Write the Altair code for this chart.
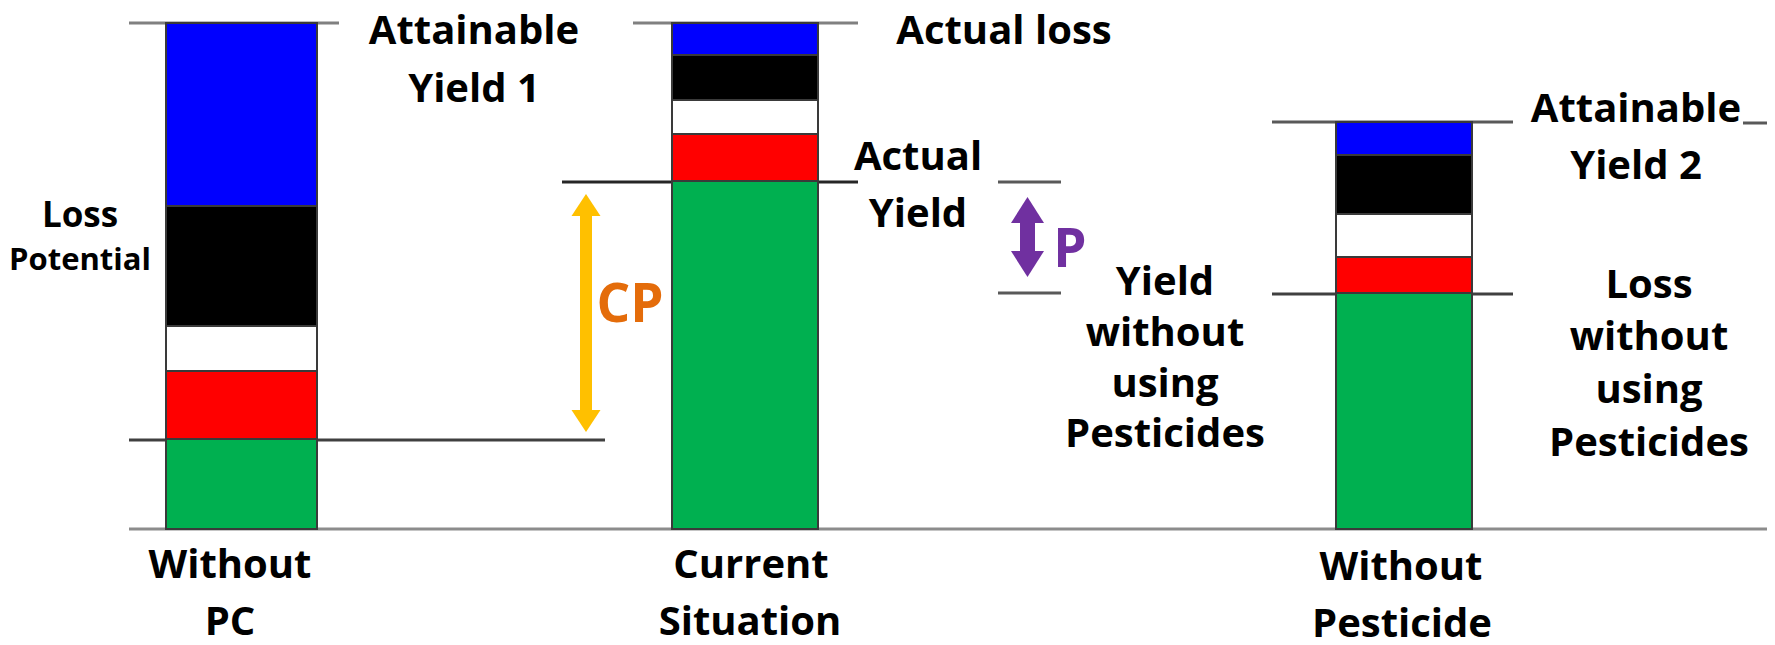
import altair as alt
import pandas as pd

# ---------------- data ----------------
scenarios = ["Without PC", "Current Situation", "Without Pesticide"]
layer_names = ["Yield", "Loss 1", "Loss 2", "Loss 3", "Loss 4"]
layer_colors = ["#00B050", "#FF0000", "#FFFFFF", "#000000", "#0000FF"]
# cumulative top of each stacked component (arbitrary yield units)
yield_top = [90, 348, 236]
red_top = [158, 395, 272]
white_top = [203, 429, 315]
black_top = [323, 474, 374]
blue_top = [506, 506, 407]

# reference levels
attainable_1 = 506
attainable_2 = 407
actual_yield = 347
yield_no_pest = 236
yield_no_pc = 89

# ---------------- layout ----------------
BASE = 529  # pixel row of the zero line in the page (for converting label rows)
bar_x0 = [166, 672, 1336]
bar_x1 = [317, 818, 1472]

rows = []
tops = [yield_top, red_top, white_top, black_top, blue_top]
for i, s in enumerate(scenarios):
    lo = 0
    for j, name in enumerate(layer_names):
        hi = tops[j][i]
        rows.append(dict(scenario=s, layer=name, x0=bar_x0[i], x1=bar_x1[i], lo=lo, hi=hi))
        lo = hi
seg = pd.DataFrame(rows)

X = alt.Scale(domain=[8, 1767], nice=False, zero=False)
Y = alt.Scale(domain=[-108, 521], nice=False, zero=False)

lines = pd.DataFrame([
    dict(x0=129, x1=339, v=attainable_1, c="#808080", w=3),
    dict(x0=633, x1=858, v=attainable_1, c="#808080", w=3),
    dict(x0=129, x1=605, v=yield_no_pc, c="#404040", w=3),
    dict(x0=562, x1=858, v=actual_yield, c="#262626", w=3),
    dict(x0=998, x1=1061, v=actual_yield, c="#595959", w=3),
    dict(x0=998, x1=1061, v=yield_no_pest, c="#595959", w=3),
    dict(x0=1272, x1=1513, v=attainable_2, c="#595959", w=3),
    dict(x0=1743, x1=1768, v=attainable_2 - 1, c="#595959", w=3),
    dict(x0=1272, x1=1513, v=yield_no_pest - 1, c="#404040", w=3),
    dict(x0=129, x1=1768, v=0, c="#8c8c8c", w=3),
])

rule_chart = alt.Chart(lines).mark_rule().encode(
    x=alt.X("x0:Q", scale=X, axis=None),
    x2="x1:Q",
    y=alt.Y("v:Q", scale=Y, axis=None),
    color=alt.Color("c:N", scale=None),
    strokeWidth=alt.StrokeWidth("w:Q", scale=None),
)

bars = alt.Chart(seg).mark_rect(stroke="#3a3a3a", strokeWidth=2).encode(
    x=alt.X("x0:Q", scale=X, axis=None),
    x2="x1:Q",
    y=alt.Y("lo:Q", scale=Y, axis=None),
    y2="hi:Q",
    color=alt.Color("layer:N", scale=alt.Scale(domain=layer_names, range=layer_colors), legend=None),
)

# ---------------- arrows ----------------
def arrow(x, tip_top, tip_bot, head_len, head_w, shaft_w, color):
    hr = head_len / head_w
    up = f"M0,{-hr:.3f}L1,{hr:.3f}L-1,{hr:.3f}Z"
    dn = f"M0,{hr:.3f}L1,{-hr:.3f}L-1,{-hr:.3f}Z"
    c_top = tip_top - head_len / 2
    c_bot = tip_bot + head_len / 2
    shaft = alt.Chart(pd.DataFrame([dict(x=x, a=c_top, b=c_bot)])).mark_rule(
        color=color, strokeWidth=shaft_w).encode(
        x=alt.X("x:Q", scale=X, axis=None),
        y=alt.Y("a:Q", scale=Y, axis=None), y2="b:Q")
    h1 = alt.Chart(pd.DataFrame([dict(x=x, v=c_top)])).mark_point(
        shape=up, filled=True, color=color, opacity=1, size=head_w ** 2, strokeWidth=0).encode(
        x=alt.X("x:Q", scale=X, axis=None), y=alt.Y("v:Q", scale=Y, axis=None))
    h2 = alt.Chart(pd.DataFrame([dict(x=x, v=c_bot)])).mark_point(
        shape=dn, filled=True, color=color, opacity=1, size=head_w ** 2, strokeWidth=0).encode(
        x=alt.X("x:Q", scale=X, axis=None), y=alt.Y("v:Q", scale=Y, axis=None))
    return shaft + h1 + h2

cp_arrow = arrow(586, BASE - 194, BASE - 432, 22, 29, 12, "#FFC000")
p_arrow = arrow(1027.5, BASE - 197, BASE - 277, 26, 33, 15, "#7030A0")

# ---------------- labels ----------------
FS = 40
labels = [
    ("Attainable", 474, 44, FS, "black"),
    ("Yield 1", 474, 102, FS, "black"),
    ("Actual loss", 1004, 44, FS, "black"),
    ("Actual", 918, 170, FS, "black"),
    ("Yield", 918, 227, FS, "black"),
    ("Loss", 80, 227, 35, "black"),
    ("Potential", 80, 270, 31, "black"),
    ("CP", 630, 322, 53, "#E46C0A"),
    ("P", 1070, 267, 53, "#7030A0"),
    ("Yield", 1165, 295, FS, "black"),
    ("without", 1165, 346, FS, "black"),
    ("using", 1165, 397, FS, "black"),
    ("Pesticides", 1165, 447, FS, "black"),
    ("Loss", 1649, 298, FS, "black"),
    ("without", 1649, 350, FS, "black"),
    ("using", 1649, 403, FS, "black"),
    ("Pesticides", 1649, 456, FS, "black"),
    ("Attainable", 1636, 122, FS, "black"),
    ("Yield 2", 1636, 179, FS, "black"),
    ("Without", 230, 578, FS, "black"),
    ("PC", 230, 635, FS, "black"),
    ("Current", 751, 578, FS, "black"),
    ("Situation", 750, 635, FS, "black"),
    ("Without", 1401, 580, FS, "black"),
    ("Pesticide", 1402, 637, FS, "black"),
]
lab = pd.DataFrame([dict(t=t, x=x, v=BASE - y, fs=fs, c=c) for t, x, y, fs, c in labels])

text_chart = alt.Chart(lab).mark_text(
    font="Open Sans", fontWeight="bold", baseline="alphabetic", align="center").encode(
    x=alt.X("x:Q", scale=X, axis=None),
    y=alt.Y("v:Q", scale=Y, axis=None),
    text="t:N",
    size=alt.Size("fs:Q", scale=None),
    color=alt.Color("c:N", scale=None),
)

chart = alt.layer(rule_chart, bars, cp_arrow, p_arrow, text_chart).properties(
    width=1759, height=629, padding=0,
    autosize=alt.AutoSizeParams(type="none"),
    background="white",
).configure_view(stroke=None)

chart.save("out.html", embed_options={"renderer": "svg", "actions": False})
